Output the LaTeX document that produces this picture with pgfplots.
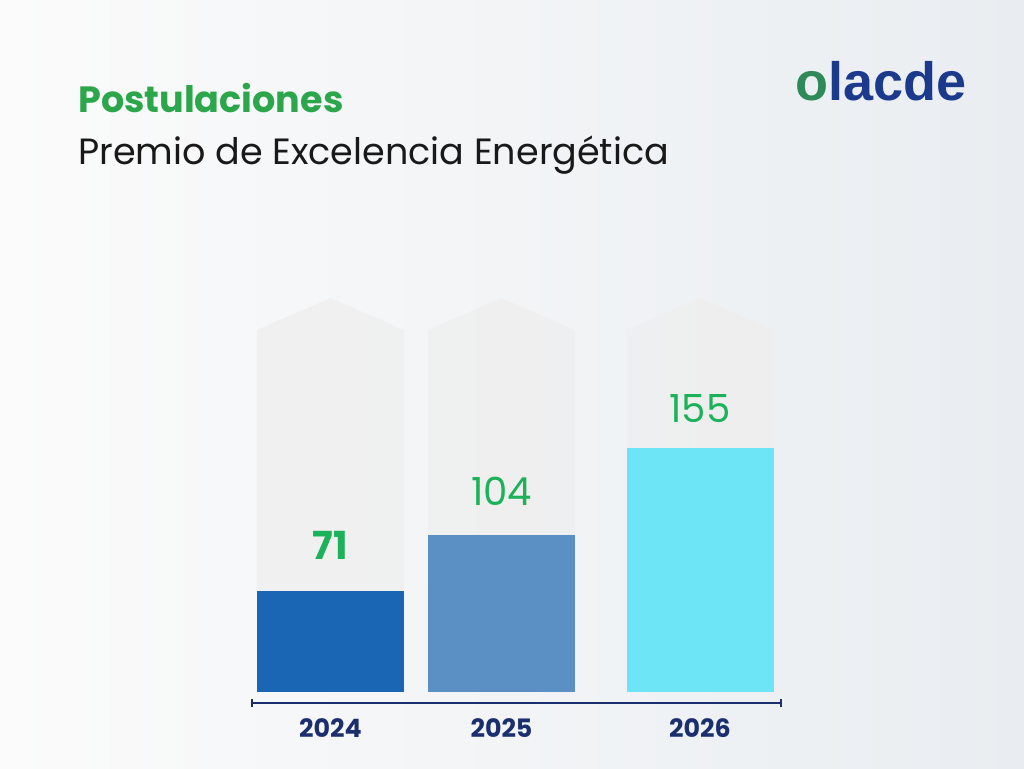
\documentclass[border=0pt]{standalone}
\usepackage{pgfplots}
\pgfplotsset{compat=1.18}
\usepackage{fontspec}
\setmainfont{Poppins}
\newfontfamily\logofont{Liberation Sans}
\definecolor{bgA}{HTML}{FBFBFB}
\definecolor{bgB}{HTML}{E9EDF1}
\definecolor{barA}{HTML}{1A65B4}
\definecolor{barB}{HTML}{5B90C5}
\definecolor{barC}{HTML}{6EE5F7}
\definecolor{valgreen}{HTML}{1BB25A}
\definecolor{titlegreen}{HTML}{2CA64A}
\definecolor{navy}{HTML}{1B2F6E}
\definecolor{logonavy}{HTML}{1C3A8C}
\definecolor{logogreen}{HTML}{2E8B57}
\definecolor{penta}{HTML}{EEEEEE}
\begin{document}
\begin{tikzpicture}
\useasboundingbox (0,0) rectangle (768pt,576pt);
\shade[left color=bgA, right color=bgB] (0,0) rectangle (768pt,576pt);
\begin{axis}[
  at={(0pt,57pt)}, anchor=south west,
  width=768pt, height=519pt, scale only axis,
  xmin=0, xmax=1024, ymin=11.765, ymax=418.82,
  clip mode=individual,
  axis line style={draw=none},
  ytick=\empty,
  xtick={330.5,501.5,700},
  xticklabels={2024,2025,2026},
  major tick length=0pt,
  /pgf/number format/assume math mode=true,
  xticklabel style={font=\bfseries\fontsize{19}{22}\selectfont, text=navy, anchor=center, yshift=-27pt},
]
% background pentagons
\addplot[sharp plot, draw=none, fill=penta, fill opacity=0.7] coordinates {(257,11.765) (257,224.7) (330.5,243.5) (404,224.7) (404,11.765)} -- cycle;
\addplot[sharp plot, draw=none, fill=penta, fill opacity=0.7] coordinates {(428,11.765) (428,224.7) (501.5,243.5) (575,224.7) (575,11.765)} -- cycle;
\addplot[sharp plot, draw=none, fill=penta, fill opacity=0.7] coordinates {(627,11.765) (627,224.7) (700,243.5) (773,224.7) (773,11.765)} -- cycle;
% bars
\addplot[ybar, bar width=147, bar shift=0pt, fill=barA, draw=none,
  nodes near coords, nodes near coords style={font=\bfseries\fontsize{29}{32}\selectfont, text=valgreen, anchor=south, inner sep=0pt, yshift=24pt}]
  coordinates {(330.5,71)};
\addplot[ybar, bar width=147, bar shift=0pt, fill=barB, draw=none,
  nodes near coords, nodes near coords style={font=\fontsize{29}{32}\selectfont, text=valgreen, anchor=south, inner sep=0pt, yshift=22pt}]
  coordinates {(501.5,104)};
\addplot[ybar, bar width=147, bar shift=0pt, fill=barC, draw=none,
  nodes near coords, nodes near coords style={font=\fontsize{29}{32}\selectfont, text=valgreen, anchor=south, inner sep=0pt, yshift=19pt}]
  coordinates {(700,155)};
% baseline
\draw[navy, line width=1.5pt] (axis cs:252,5.29) -- (axis cs:781,5.29);
\draw[navy, line width=1.2pt] (axis cs:252,3.0) -- (axis cs:252,7.6);
\draw[navy, line width=1.2pt] (axis cs:781,3.0) -- (axis cs:781,7.6);
\end{axis}
\begin{scope}[shift={(0pt,576pt)}, x=0.75pt, y=-0.75pt]
\node[anchor=base west, inner sep=0pt, text=titlegreen, font=\bfseries\fontsize{27.4}{32}\selectfont] at (78,113) {Postulaciones};
\node[anchor=base west, inner sep=0pt, text=black!90, font=\fontsize{27.4}{32}\selectfont] at (78,165) {Premio de Excelencia Energética};
\node[anchor=base west, inner sep=0pt, font=\logofont\bfseries\fontsize{40.5}{42}\selectfont] at (795,101) {\textcolor{logogreen}{o}\textcolor{logonavy}{lacde}};
\end{scope}
\end{tikzpicture}
\end{document}
